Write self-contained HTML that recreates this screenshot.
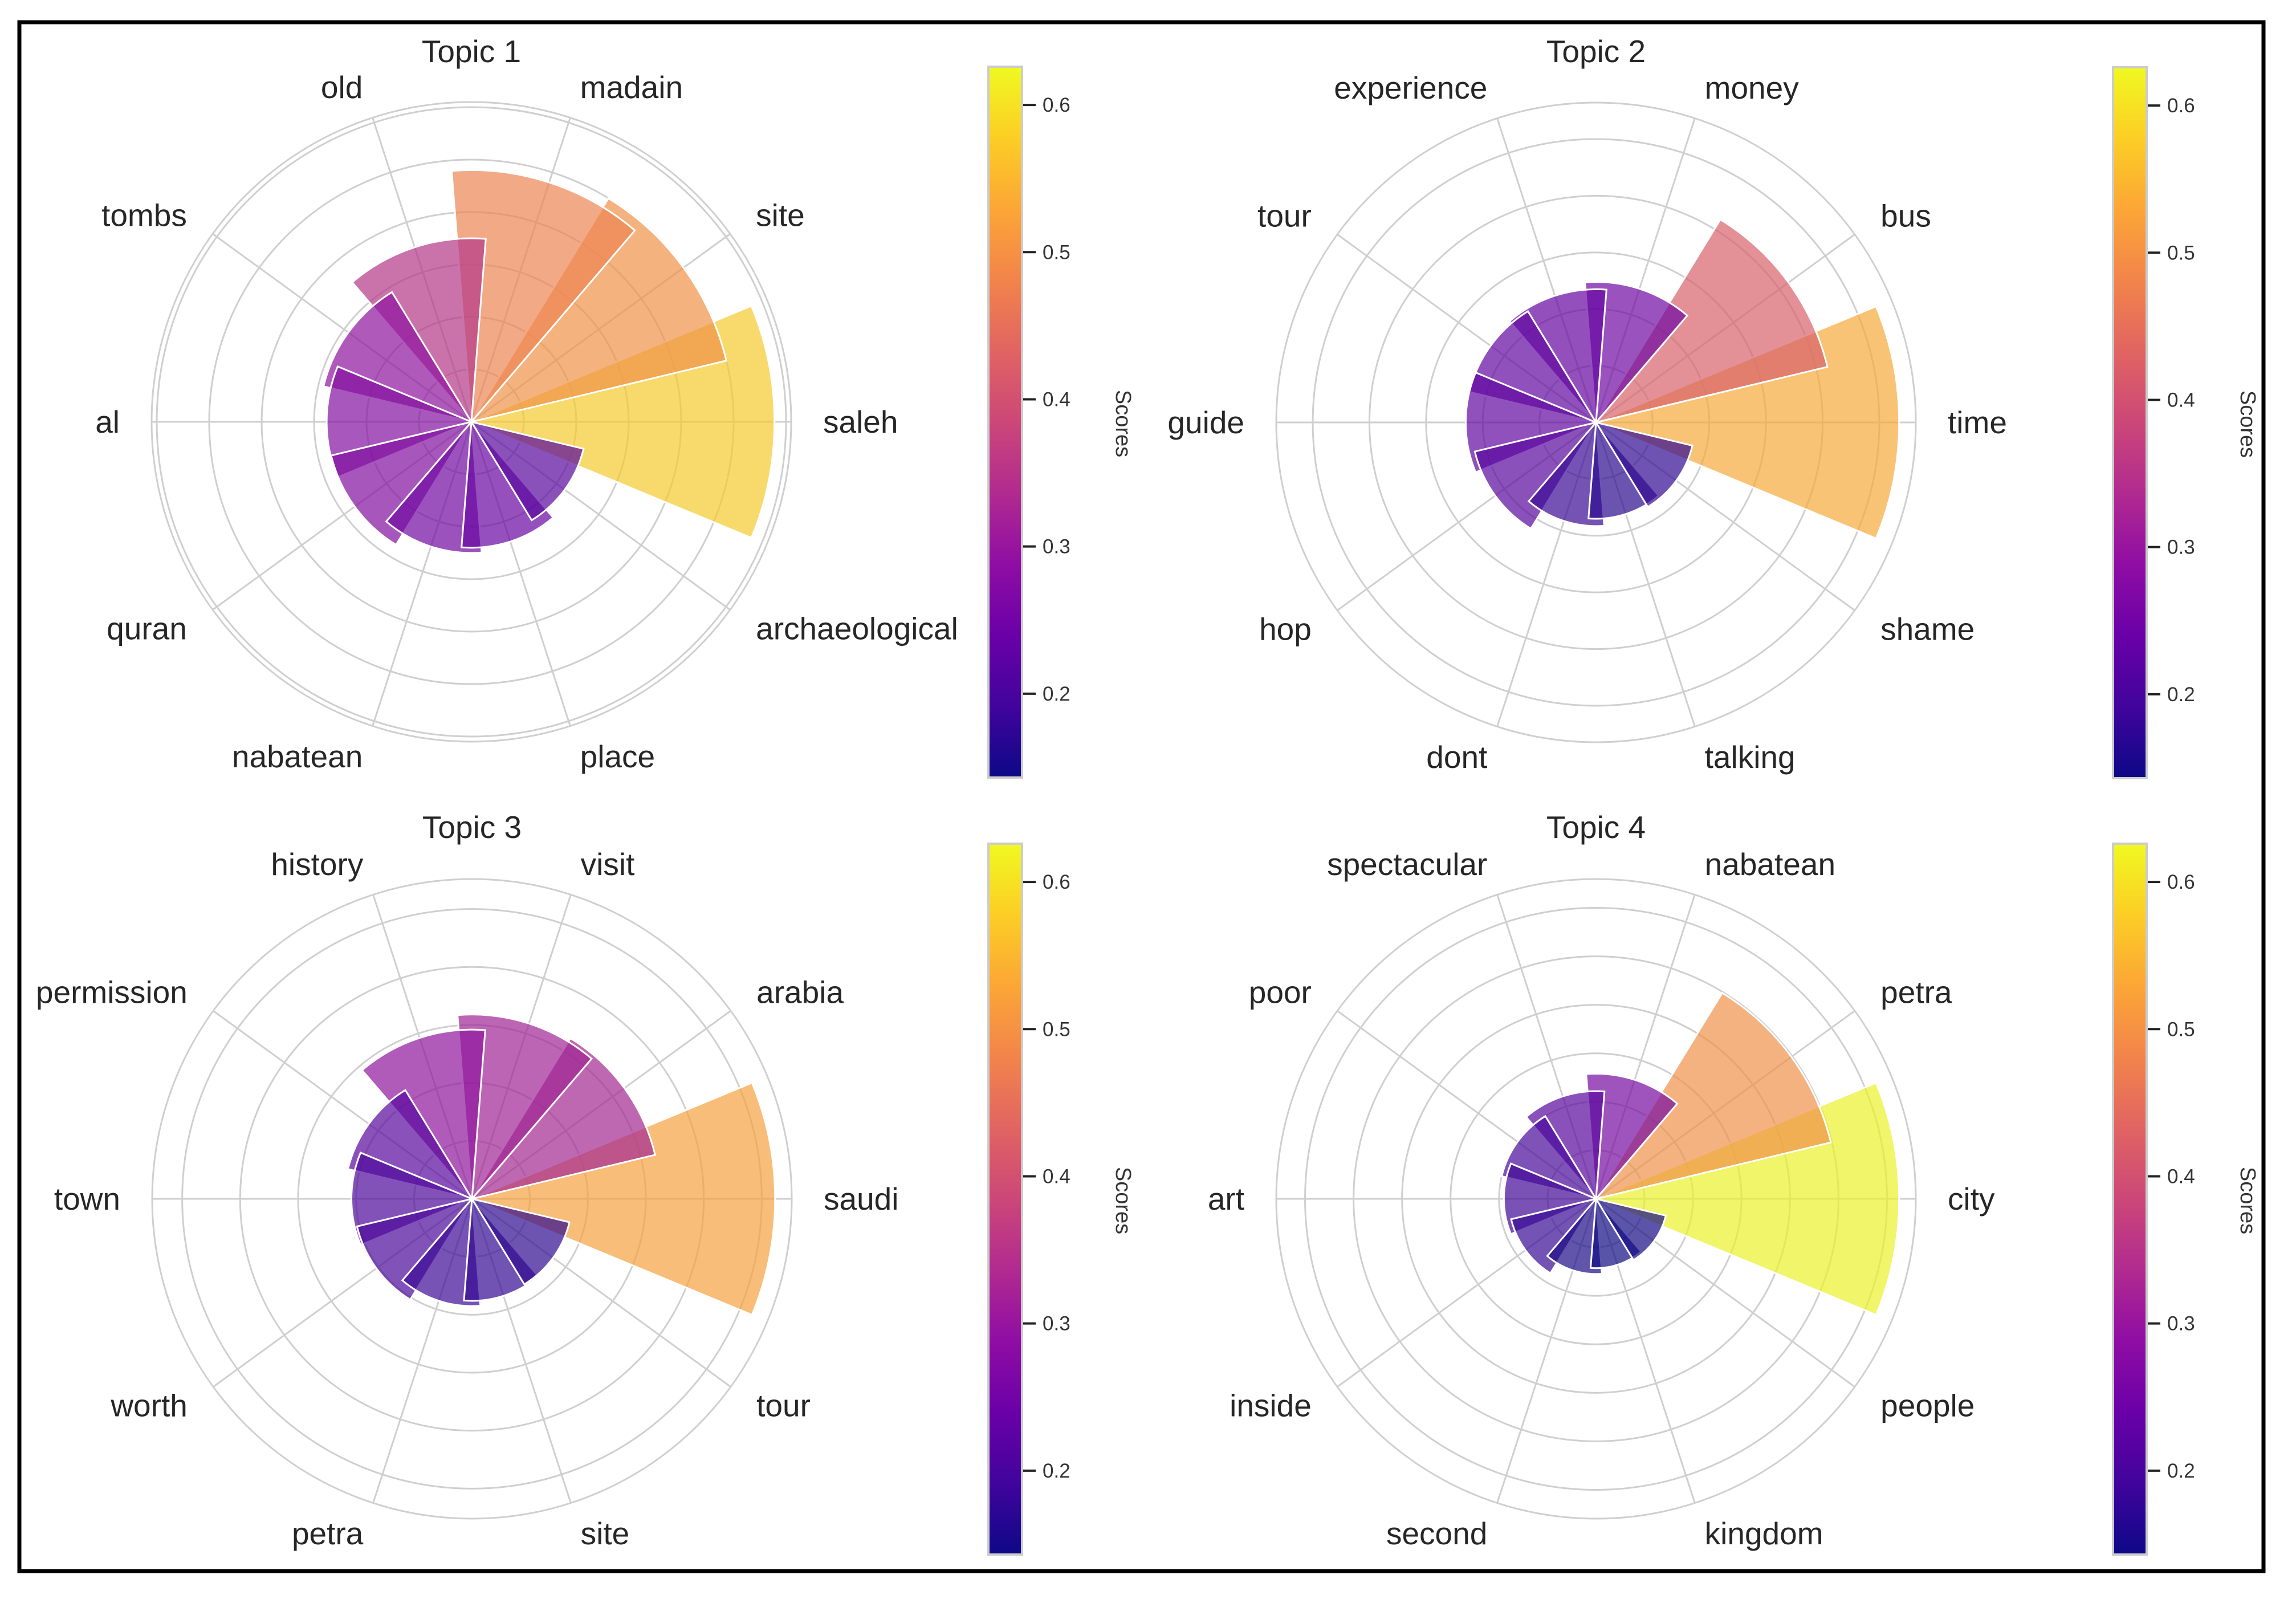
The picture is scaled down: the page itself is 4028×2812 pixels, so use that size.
<!DOCTYPE html>
<html>
<head>
<meta charset="utf-8">
<style>
html,body{margin:0;padding:0;background:#fff;}
svg{display:block;}
text{font-family:"Liberation Sans",Arial,sans-serif;}
</style>
</head>
<body>
<svg id="chart" width="4028" height="2812" viewBox="0 0 4028 2812" xmlns="http://www.w3.org/2000/svg">
<defs>
<linearGradient id="plasmaGrad" x1="0" y1="1" x2="0" y2="0">
<stop offset="0" stop-color="#0d0887"/>
<stop offset="0.1" stop-color="#41049d"/>
<stop offset="0.2" stop-color="#6a00a8"/>
<stop offset="0.3" stop-color="#8f0da4"/>
<stop offset="0.4" stop-color="#b12a90"/>
<stop offset="0.5" stop-color="#cc4778"/>
<stop offset="0.6" stop-color="#e16462"/>
<stop offset="0.7" stop-color="#f2844b"/>
<stop offset="0.8" stop-color="#fca636"/>
<stop offset="0.9" stop-color="#fcce25"/>
<stop offset="1" stop-color="#f0f921"/>
</linearGradient>
</defs>
<rect x="0" y="0" width="4028" height="2812" fill="#fff"/>
<rect x="34" y="39" width="3937" height="2717" fill="none" stroke="#000" stroke-width="7"/>
</svg>
<script>
const topicTitles = ["Topic 1", "Topic 2", "Topic 3", "Topic 4"];
const words1 = ["saleh","site","madain","old","tombs","al","quran","nabatean","place","archaeological"];
const scores1 = [0.578,0.50,0.48,0.35,0.29,0.276,0.275,0.25,0.24,0.22];
const words2 = ["time","bus","money","experience","tour","guide","hop","dont","talking","shame"];
const scores2 = [0.535,0.42,0.248,0.235,0.23,0.23,0.22,0.183,0.17,0.175];
const words3 = ["saudi","arabia","visit","history","permission","town","worth","petra","site","tour"];
const scores3 = [0.523,0.325,0.318,0.292,0.22,0.208,0.204,0.185,0.176,0.173];
const words4 = ["city","petra","nabatean","spectacular","poor","art","inside","second","kingdom","people"];
const scores4 = [0.625,0.498,0.258,0.222,0.20,0.19,0.18,0.155,0.143,0.148];
const colorTicks = [0.2,0.3,0.4,0.5,0.6];
const vmin = 0.143, vmax = 0.626;

const NS = "http://www.w3.org/2000/svg";
const svg = document.getElementById("chart");
function mk(tag, attrs, parent){
  const e = document.createElementNS(NS, tag);
  for (const k in attrs) e.setAttribute(k, attrs[k]);
  (parent||svg).appendChild(e);
  return e;
}
const stops = [[13,8,135],[65,4,157],[106,0,168],[143,13,164],[177,42,144],[204,71,120],[225,100,98],[242,132,75],[252,166,54],[252,206,37],[240,249,33]];
function desat(rgb, f){
  const m = (Math.max(...rgb) + Math.min(...rgb)) / 2;
  return rgb.map(c => m + (c - m) * f);
}
function plasma(t){
  t = Math.max(0, Math.min(1, t));
  const p = t*10, i = Math.min(9, Math.floor(p)), f = p - i;
  const a = stops[i], b = stops[i+1];
  const rgb = desat([0,1,2].map(k => a[k] + (b[k]-a[k])*f), 0.93);
  return "rgb(" + rgb.map(v => Math.round(v)).join(",") + ")";
}

const panels = [
  {cx:827, cy:740, words:words1, vals:scores1, title:topicTitles[0], titleY:109, cbx:1734},
  {cx:2800, cy:741, words:words2, vals:scores2, title:topicTitles[1], titleY:109, cbx:3707},
  {cx:828, cy:2103, words:words3, vals:scores3, title:topicTitles[2], titleY:1470, cbx:1734},
  {cx:2800, cy:2103, words:words4, vals:scores4, title:topicTitles[3], titleY:1470, cbx:3707}
];
const R = 561, labelR = 617, halfW = 22.5*Math.PI/180;

panels.forEach((p, pi) => {
  const g = mk("g", {});
  
  
  const maxV = Math.max(...p.vals);
  const rmax = maxV * 1.055;
  const rs = v => v / rmax * R;
  for (let t = 0.1; t < rmax - 1e-6; t += 0.1) {
    const c = mk("circle", {cx:p.cx, cy:p.cy, r:rs(t), fill:"none", stroke:"#cfcfcf", "stroke-width":3}, g);
    
    
  }
  const spine = mk("circle", {cx:p.cx, cy:p.cy, r:R, fill:"none", stroke:"#cfcfcf", "stroke-width":3}, g);
  
  
  const n = p.words.length;
  for (let i = 0; i < n; i++) {
    const th = i * 2 * Math.PI / n;
    const c = Math.cos(th), s = Math.sin(th);
    const sp = mk("line", {x1:p.cx, y1:p.cy, x2:p.cx + R*c, y2:p.cy - R*s, stroke:"#cfcfcf", "stroke-width":3}, g);
    
    
    const tx = mk("text", {x:p.cx + labelR*c, y:p.cy - labelR*s + 19, "font-size":55, fill:"#262626",
      "text-anchor": Math.abs(c) < 0.01 ? "middle" : (c > 0 ? "start" : "end")}, g);
    tx.textContent = p.words[i];
    
    
  }
  for (let i = 0; i < n; i++) {
    const th = i * 2 * Math.PI / n;
    const r = rs(p.vals[i]);
    const a1 = th - halfW, a2 = th + halfW;
    const x1 = p.cx + r*Math.cos(a1), y1 = p.cy - r*Math.sin(a1);
    const x2 = p.cx + r*Math.cos(a2), y2 = p.cy - r*Math.sin(a2);
    const d = `M${p.cx},${p.cy} L${x1},${y1} A${r},${r} 0 0 0 ${x2},${y2} Z`;
    const b = mk("path", {d:d, fill:plasma((p.vals[i]-vmin)/(vmax-vmin)), "fill-opacity":0.7, stroke:"#fff", "stroke-width":3, "stroke-linejoin":"miter"}, g);
    
    
  }
  const tt = mk("text", {x:p.cx, y:p.titleY, "font-size":55, fill:"#262626", "text-anchor":"middle"}, g);
  tt.textContent = p.title;
  
  

  const cb = mk("g", {});
  
  
  const top = p.cy - 623, bot = p.cy + 624;
  const cy = v => bot - (v - vmin)/(vmax - vmin) * (bot - top);
  const rect = mk("rect", {x:p.cbx, y:top, width:59, height:bot-top, fill:"url(#plasmaGrad)", stroke:"#cccccc", "stroke-width":4}, cb);
  
  
  colorTicks.forEach(v => {
    const y = cy(v);
    const tk = mk("line", {x1:p.cbx+61, y1:y, x2:p.cbx+83, y2:y, stroke:"#222", "stroke-width":4}, cb);
    
    
    const tl = mk("text", {x:p.cbx+95, y:y+12, "font-size":35, fill:"#333"}, cb);
    tl.textContent = v.toFixed(1);
    
    
  });
  const lx = p.cbx + 224, ly = p.cy + 3;
  const sl = mk("text", {x:lx, y:ly, "font-size":38, fill:"#333", "text-anchor":"middle", transform:`rotate(90 ${lx} ${ly})`}, cb);
  sl.textContent = "Scores";
  
  
});
</script>
</body>
</html>
